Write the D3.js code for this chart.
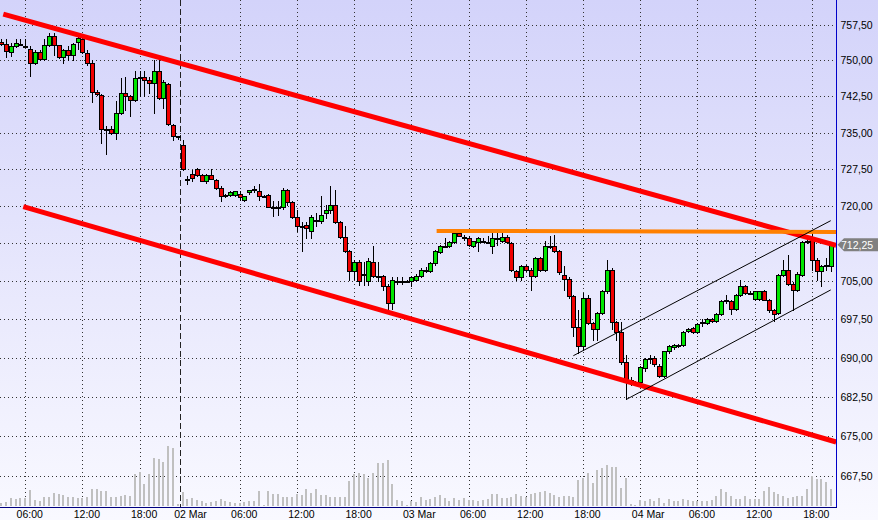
<!DOCTYPE html>
<html><head><meta charset="utf-8">
<script src="https://cdn.jsdelivr.net/npm/d3@7"></script>
<style>html,body{margin:0;padding:0;overflow:hidden;background:#fff}</style>
</head><body>
<svg id="chart" width="878" height="520"></svg>
<script>
// bar index of first candle (30-minute bars; index 0 = 06:00 first day)
const firstIndex = -5;
const opens = [
754.0,753.5,751.75,753.0,753.5,753.0,752.5,749.5,751.75,750.25,
753.25,755.25,753.25,750.75,752.25,751.25,754.0,754.5,751.5,749.5,
743.5,742.75,735.75,735.75,735.0,739.0,743.25,742.5,741.75,746.25,
746.5,746.0,745.25,747.75,742.25,745.0,736.5,734.25,732.5,725.5,
726.5,727.5,726.25,725.0,726.25,725.25,723.75,722.0,722.25,722.25,
722.5,721.25,722.75,723.5,723.0,722.0,722.25,719.75,719.75,719.75,
723.25,720.75,717.75,716.0,716.25,715.0,717.25,717.0,718.5,719.25,
720.25,716.75,713.75,711.0,707.0,708.75,706.5,705.0,708.75,706.0,
706.0,704.0,700.75,705.0,705.0,705.0,705.0,705.25,706.0,707.25,
707.0,708.5,710.75,712.0,712.0,712.75,714.5,713.75,713.5,712.0,
712.75,713.0,712.75,712.0,713.5,713.0,713.75,712.5,707.0,705.75,
708.0,707.25,706.0,709.5,707.25,712.0,712.0,711.0,706.25,705.5,
702.0,696.0,692.25,701.75,696.75,695.5,698.75,703.0,707.25,697.0,
695.0,689.25,685.75,685.25,685.25,688.0,689.75,690.0,688.5,686.5,
691.25,692.0,692.5,692.5,695.25,695.75,695.0,696.75,696.75,697.5,
697.25,698.5,701.0,701.0,699.5,702.25,704.0,702.75,701.5,701.5,
703.0,701.25,699.25,698.75,706.25,707.25,704.5,703.25,706.25,712.75,
713.5,709.25,707.0,708.0,708.0];
const highs = [
754.5,754.5,753.75,754.5,754.5,754.5,753.0,752.25,752.25,754.5,
755.75,755.75,753.25,752.5,753.0,753.75,755.25,754.75,752.25,750.0,
743.75,743.0,736.25,736.25,741.5,746.25,746.5,742.75,747.75,747.75,
747.75,746.5,750.0,750.25,746.0,745.25,736.75,734.25,733.5,726.0,
727.25,727.75,726.5,726.5,727.5,725.5,724.0,722.5,723.0,723.0,
723.0,722.0,723.25,724.0,724.5,722.25,722.5,721.0,721.0,723.75,
723.5,721.0,719.25,716.75,716.75,718.25,718.5,722.0,720.25,724.0,
723.25,717.0,716.0,711.25,709.25,709.25,708.75,709.5,712.0,708.75,
706.25,704.5,705.75,705.75,705.75,705.25,706.0,706.5,707.5,707.75,
708.75,711.25,712.25,713.5,713.0,714.75,714.75,714.25,714.0,713.0,
713.75,713.5,714.0,714.5,714.5,714.5,714.25,712.75,707.25,708.25,
708.25,707.5,709.75,709.75,713.0,714.0,714.25,711.25,708.0,705.75,
702.25,699.25,702.75,702.25,697.0,699.0,703.25,709.25,707.5,697.25,
697.0,690.5,686.25,685.5,688.5,690.0,690.5,690.25,688.75,691.25,
692.5,692.75,692.75,695.25,695.75,696.0,696.75,697.5,697.75,697.75,
698.75,701.25,702.25,701.25,702.5,705.25,704.25,703.0,703.0,703.0,
703.25,701.5,699.5,706.5,709.25,710.25,704.75,706.75,713.0,713.75,
714.5,709.5,708.25,709.5,712.5];
const lows = [
753.25,750.75,751.0,752.75,753.25,752.75,746.75,749.25,750.0,750.0,
753.0,751.25,750.5,749.5,750.0,750.0,752.5,751.5,749.0,741.25,
742.75,732.75,730.5,734.75,733.75,738.75,739.75,738.5,741.5,742.5,
742.5,743.25,739.0,742.0,740.0,736.5,733.5,733.75,727.25,724.5,
725.0,726.0,725.0,724.75,725.5,723.5,721.0,721.75,722.0,722.0,
721.25,721.0,722.5,722.75,721.25,721.75,719.75,718.0,718.25,719.5,
720.25,717.5,715.0,711.0,713.5,713.5,716.0,716.5,717.5,718.5,
716.5,713.5,710.75,705.25,705.5,704.25,704.25,704.25,705.75,705.0,
703.25,699.5,699.5,704.5,704.5,704.75,704.0,705.0,705.75,706.75,
706.75,708.25,710.5,711.75,711.75,712.5,714.0,713.25,712.0,711.75,
711.0,712.75,712.5,710.5,712.25,712.75,712.5,707.0,705.25,705.25,
707.0,703.25,705.75,707.0,707.0,711.5,710.75,706.5,703.25,701.75,
694.25,691.0,691.5,696.5,693.5,693.5,698.5,702.75,695.5,693.5,
688.75,682.0,684.75,684.75,684.75,687.5,689.0,688.5,686.25,686.25,
691.0,691.75,692.0,692.25,695.0,694.75,694.75,696.25,696.5,697.0,
697.0,698.25,700.75,698.5,699.25,702.0,702.5,702.5,701.25,701.25,
701.25,699.0,697.25,698.5,706.0,704.25,699.25,703.0,706.0,712.5,
707.25,705.25,704.0,707.25,707.0];
const closes = [
753.5,752.0,753.0,753.75,753.5,753.0,749.5,751.75,750.25,753.25,
755.25,753.25,750.75,752.25,751.25,753.5,754.75,751.75,749.5,743.5,
743.0,735.75,735.5,735.0,739.0,743.25,742.5,741.75,746.25,746.5,
746.0,745.25,747.75,742.25,745.5,736.75,734.25,734.0,727.5,725.5,
725.75,726.25,725.0,726.25,725.5,723.75,722.0,722.25,722.75,723.0,
721.75,722.0,723.25,723.5,722.0,722.0,719.75,719.75,719.75,723.25,
720.75,717.75,716.0,716.0,715.5,717.75,717.25,718.25,719.25,720.25,
716.75,713.75,711.0,707.0,708.75,705.0,706.5,709.0,706.0,706.0,
704.0,700.75,705.25,705.0,705.0,705.0,705.75,706.0,707.25,707.25,
708.5,711.0,712.0,712.0,712.75,714.5,714.0,713.75,712.25,713.0,
713.5,713.0,712.75,713.5,713.5,713.75,712.75,707.25,705.75,708.0,
707.25,706.0,709.5,707.25,712.0,712.0,711.0,706.75,705.5,702.0,
696.0,692.25,701.75,696.75,695.5,698.75,703.0,707.25,697.0,695.0,
689.25,685.75,685.5,685.25,688.25,689.75,690.0,688.75,686.5,691.25,
692.25,692.5,692.5,695.0,695.5,695.0,696.5,697.0,697.5,697.25,
698.5,701.0,701.25,699.5,702.25,704.0,702.75,702.75,703.0,703.0,
701.25,699.25,698.5,706.25,707.25,704.5,703.25,706.5,712.75,713.0,
709.25,707.0,708.0,708.25,712.25];
const volumes = [
270,400,770,670,770,770,
1570,570,470,930,930,1270,1170,1130,870,930,
770,770,870,1670,1670,1470,1470,930,870,1000,
1070,970,3170,3400,2170,3170,4830,4730,4430,5970,
5770,170,1400,730,830,570,470,270,400,500,
730,470,400,330,270,400,470,470,1470,130,
1470,1170,1170,930,930,930,1170,1070,1670,1270,
1670,1070,1070,870,870,870,930,2470,3170,3270,
3170,2830,3330,4330,4330,4570,2170,570,470,130,
470,400,930,600,730,930,1070,830,500,770,
600,770,600,600,470,600,670,1170,1170,830,
770,930,1170,1000,930,1170,1270,1400,1500,1270,
1070,870,1000,1000,870,2570,2770,3330,2270,3600,
3830,4070,3900,3900,1770,2830,230,70,570,500,
670,500,830,270,730,500,500,670,600,500,
500,500,500,600,1000,1670,1430,1000,730,730,
1000,730,670,670,1500,1930,1400,1170,1000,830,
930,1000,1000,1670,3000,2670,2730,2400,1670];

const tickIndex = [0,12,24,33,45,57,69,81,93,105,117,129,141,153,165];
const tickLabels = ["06:00","12:00","18:00","02 Mar","06:00","12:00","18:00","03 Mar","06:00","12:00","18:00","04 Mar","06:00","12:00","18:00"];
const weekBreakIndex = 32.5;
const priceTicks = [667.5,675,682.5,690,697.5,705,712.5,720,727.5,735,742.5,750,757.5];
const lastPrice = 712.25;

// drawn studies: [barIndex, price]
const upperTrend = [[-4.7, 759.8],[170, 712.1]];
const lowerTrend = [[-0.5, 719.9],[170, 673.9]];
const resistance = [[86.2, 715.0],[170, 714.8]];
const channelTop = [[114.87, 690.4],[168.87, 717.05]];
const channelBottom = [[126.08, 682.03],[168.87, 703.26]];

const W = 878, H = 520, plotR = 836, plotB = 507;
const svg = d3.select("#chart");
const font = "'Liberation Sans', Arial, sans-serif";

const defs = svg.append("defs");
const grad = defs.append("linearGradient").attr("id","bg").attr("x1",0).attr("y1",0).attr("x2",0).attr("y2",1);
grad.append("stop").attr("offset","0").attr("stop-color","#d3d3fa");
grad.append("stop").attr("offset","1").attr("stop-color","#f9f9ff");
defs.append("clipPath").attr("id","plotClip").append("rect").attr("x",0).attr("y",0).attr("width",plotR).attr("height",plotB);

svg.append("rect").attr("width",W).attr("height",H).attr("fill","url(#bg)");

const x = d3.scaleLinear().domain([0,165]).range([25.7,812.3]);
const y = d3.scaleLog().domain([757.5,667.5]).range([25,476]);
const yVol = d3.scaleLinear().domain([0,6000]).range([506,446]);

const plot = svg.append("g").attr("clip-path","url(#plotClip)");

// grid
const grid = plot.append("g").attr("stroke","#333").attr("stroke-width",1).attr("stroke-dasharray","1,3").attr("shape-rendering","crispEdges");
priceTicks.forEach(p=>{
  const yy = Math.round(y(p))+0.5;
  grid.append("line").attr("x1",0).attr("x2",plotR).attr("y1",yy).attr("y2",yy);
});
tickIndex.forEach(k=>{
  if (k === 33) return;
  const xx = Math.floor(x(k))+0.5;
  grid.append("line").attr("x1",xx).attr("x2",xx).attr("y1",0).attr("y2",plotB);
});
const wx = Math.floor(x(weekBreakIndex))+0.5;
plot.append("line").attr("x1",wx).attr("x2",wx).attr("y1",0).attr("y2",plotB)
  .attr("stroke","#222").attr("stroke-dasharray","6,3").attr("shape-rendering","crispEdges");

// data rows
const bars = opens.map((o,i)=>({k:firstIndex+i,o,h:highs[i],l:lows[i],c:closes[i],v:volumes[i]}));

// volume
plot.append("g").selectAll("rect").data(bars).join("rect")
  .attr("x",d=>Math.floor(x(d.k))-1).attr("width",2)
  .attr("y",d=>yVol(d.v)).attr("height",d=>yVol(0)-yVol(d.v))
  .attr("fill","#c0c0c0").attr("shape-rendering","crispEdges");

// candles
const cg = plot.append("g").attr("shape-rendering","crispEdges");
bars.forEach(d=>{
  const cx = Math.floor(x(d.k));
  cg.append("line").attr("x1",cx+0.5).attr("x2",cx+0.5)
    .attr("y1",Math.round(y(d.h))).attr("y2",Math.round(y(d.l))+1)
    .attr("stroke","#000");
  const top = Math.round(y(Math.max(d.o,d.c)))+0.5;
  const bot = Math.round(y(Math.min(d.o,d.c)))+0.5;
  const fill = d.c > d.o ? "#00e600" : (d.c < d.o ? "#f00000" : "#000");
  cg.append("rect").attr("x",cx-1.5).attr("width",4)
    .attr("y",top).attr("height",Math.max(1,bot-top))
    .attr("fill",fill).attr("stroke","#000").attr("stroke-width",1);
});

// studies
const line = d3.line().x(d=>x(d[0])).y(d=>y(d[1]));
plot.append("path").attr("d",line(upperTrend)).attr("stroke","#ff0000").attr("stroke-width",5).attr("fill","none");
plot.append("path").attr("d",line(lowerTrend)).attr("stroke","#ff0000").attr("stroke-width",5).attr("fill","none");
plot.append("path").attr("d",line(resistance)).attr("stroke","#ff8000").attr("stroke-width",4).attr("fill","none");
plot.append("path").attr("d",line(channelTop)).attr("stroke","#000").attr("stroke-width",1).attr("fill","none");
plot.append("path").attr("d",line(channelBottom)).attr("stroke","#000").attr("stroke-width",1).attr("fill","none");

// axes lines
svg.append("line").attr("x1",plotR+0.5).attr("x2",plotR+0.5).attr("y1",0).attr("y2",plotB+1)
  .attr("stroke","#0000c8").attr("shape-rendering","crispEdges");
svg.append("line").attr("x1",0).attr("x2",plotR+1).attr("y1",plotB+0.5).attr("y2",plotB+0.5)
  .attr("stroke","#000080").attr("shape-rendering","crispEdges");

// price labels
const fmt = p => d3.format(".2f")(p).replace(".",",");
priceTicks.forEach(p=>{
  if (Math.abs(p-lastPrice) < 1) return;
  svg.append("text").attr("x",840.5).attr("y",Math.round(y(p))+4)
    .attr("font-family",font).attr("font-size","10.5px").attr("fill","#000").text(fmt(p));
});

// time labels
tickIndex.forEach((k,i)=>{
  const isDate = tickLabels[i].indexOf("Mar")>=0;
  svg.append("text").attr("x",x(k)+(isDate?7.5:4)).attr("y",518)
    .attr("text-anchor","middle").attr("font-family",font).attr("font-size","10.5px")
    .attr("fill","#000").text(tickLabels[i]);
});

// last price tag
const cy = y(lastPrice);
svg.append("polygon").attr("points",[[837.5,cy],[844,cy-6.5],[878,cy-6.5],[878,cy+6.5],[844,cy+6.5]].map(p=>p.join(",")).join(" "))
  .attr("fill","#808080");
svg.append("text").attr("x",841).attr("y",cy+4).attr("font-family",font).attr("font-size","10.5px")
  .attr("fill","#fff").text(fmt(lastPrice));
</script>
</body></html>
